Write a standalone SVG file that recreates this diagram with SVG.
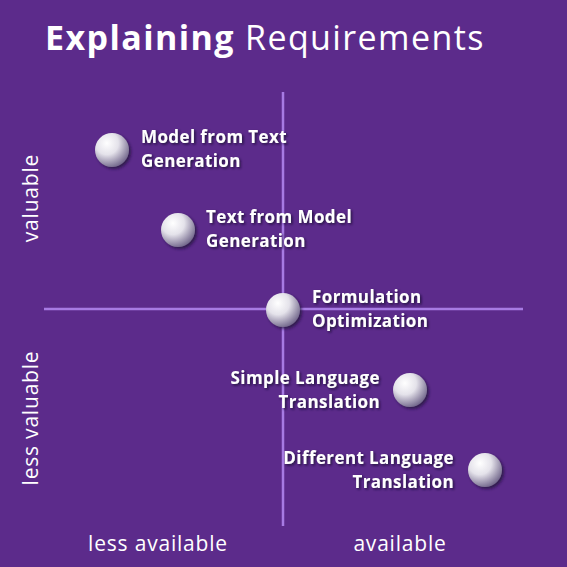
<svg xmlns="http://www.w3.org/2000/svg" width="567" height="567" viewBox="0 0 567 567">
<defs>
<style>
.lbl{font-family:"Open Sans","Liberation Sans",sans-serif;font-weight:700;font-size:17px;letter-spacing:0.4px;fill:#ffffff;filter:url(#sh)}
.ax{font-family:"Open Sans","Liberation Sans",sans-serif;font-size:21px;letter-spacing:0.8px;fill:#ffffff}
.axis{stroke:#A77BE3;stroke-width:2.5}
.ball{fill:url(#g);filter:url(#bs)}
</style>
<radialGradient id="g" cx="0.35" cy="0.3" r="0.75">
<stop offset="0" stop-color="#ffffff"/>
<stop offset="0.45" stop-color="#e4e2ea"/>
<stop offset="1" stop-color="#6f6489"/>
</radialGradient>
<filter id="sh" x="-10%" y="-30%" width="130%" height="170%">
<feDropShadow dx="1.5" dy="1.5" stdDeviation="1.2" flood-color="#1a0830" flood-opacity="0.8"/>
</filter>
<filter id="bs" x="-40%" y="-40%" width="180%" height="180%">
<feDropShadow dx="2" dy="2" stdDeviation="1.8" flood-color="#1a0830" flood-opacity="0.7"/>
</filter>
</defs>
<rect width="567" height="567" fill="#5C2B8B"/>
<text x="45" y="50" font-family="'Open Sans','Liberation Sans',sans-serif" font-size="34" letter-spacing="1.4" fill="#ffffff"><tspan font-weight="700">Explaining</tspan> Requirements</text>
<g id="axes">
<line class="axis" x1="283" y1="92" x2="283" y2="526"/>
<line class="axis" x1="44" y1="309" x2="523" y2="309"/>
</g>
<text class="ax" transform="translate(38,198) rotate(-90)" text-anchor="middle">valuable</text>
<text class="ax" transform="translate(38,418) rotate(-90)" text-anchor="middle">less valuable</text>
<text class="ax" x="158" y="551" text-anchor="middle">less available</text>
<text class="ax" x="400" y="551" text-anchor="middle">available</text>
<g id="n1"><circle class="ball" cx="112" cy="150" r="17"/><text class="lbl" x="141" y="143">Model from Text</text><text class="lbl" x="141" y="167">Generation</text></g>
<g id="n2"><circle class="ball" cx="178" cy="230" r="17"/><text class="lbl" x="206" y="223">Text from Model</text><text class="lbl" x="206" y="247">Generation</text></g>
<g id="n3"><circle class="ball" cx="283" cy="310" r="17"/><text class="lbl" x="312" y="303">Formulation</text><text class="lbl" x="312" y="327">Optimization</text></g>
<g id="n4"><circle class="ball" cx="410" cy="390" r="17"/><text class="lbl" x="380" y="384" text-anchor="end">Simple Language</text><text class="lbl" x="380" y="408" text-anchor="end">Translation</text></g>
<g id="n5"><circle class="ball" cx="485" cy="470" r="17"/><text class="lbl" x="454" y="464" text-anchor="end">Different Language</text><text class="lbl" x="454" y="488" text-anchor="end">Translation</text></g>
</svg>
